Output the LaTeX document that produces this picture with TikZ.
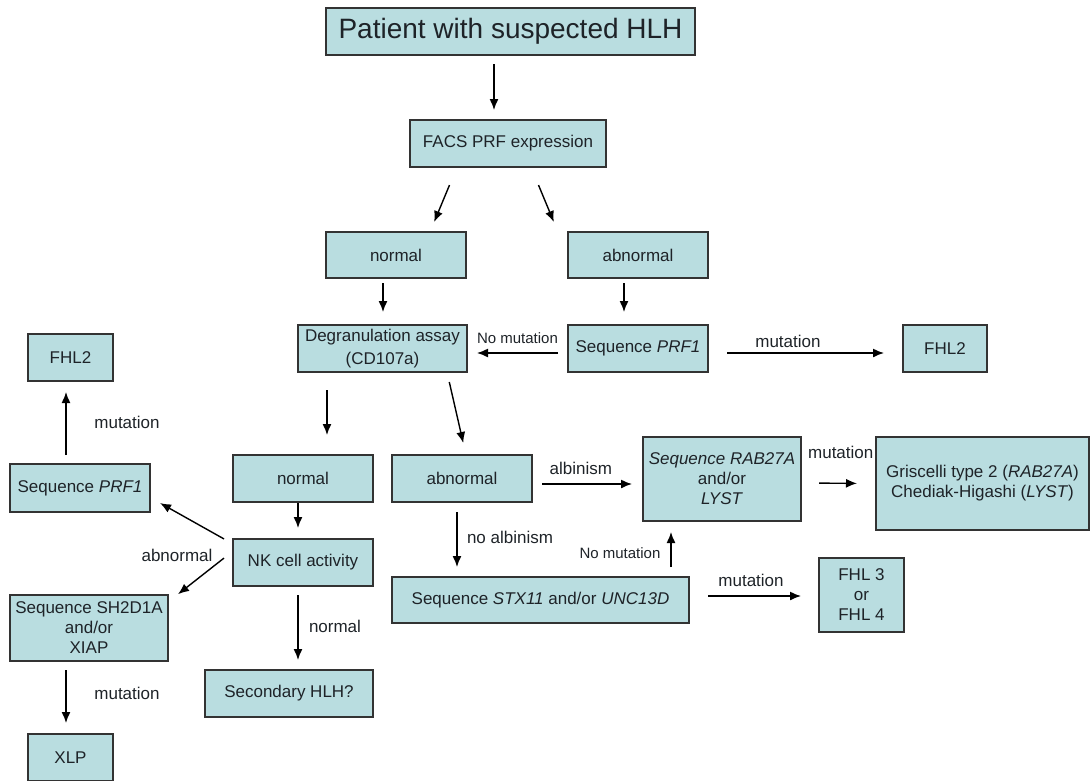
\documentclass[tikz,border=0pt]{standalone}
\usepackage{fontspec}
\setmainfont{Liberation Sans}
\usepackage{xcolor}
\usepackage{tikz}
\usetikzlibrary{arrows.meta}
\definecolor{box}{HTML}{B9DDE0}
\definecolor{ink}{HTML}{1E2328}

\begin{document}
\begin{tikzpicture}[x=1pt,y=-1pt,>={Latex[length=11pt,width=9pt]},font=\fontsize{17}{20}\selectfont,line width=1.4pt,text=ink]
\tikzstyle{b}=[draw=black!80,fill=box,line width=1.5pt,align=center,inner sep=0pt,outer sep=0pt]
\tikzstyle{lab}=[inner sep=0pt]
\tikzstyle{sm}=[inner sep=0pt,font=\fontsize{15}{18}\selectfont]
\useasboundingbox (0,0) rectangle (1090,780);
% boxes
\node[b,minimum width=369pt,minimum height=47pt,font=\fontsize{28}{32}\selectfont] (pat) at (510.5,31.5) {Patient with suspected HLH};
\node[b,minimum width=196pt,minimum height=47pt] (facs) at (508,143.5) {FACS PRF expression};
\node[b,minimum width=140pt,minimum height=46pt] (norm1) at (396,255) {normal};
\node[b,minimum width=140pt,minimum height=46pt] (abn1) at (638,255) {abnormal};
\node[b,minimum width=169pt,minimum height=47pt,font=\fontsize{17}{23}\selectfont] (degr) at (382.5,348.5) {Degranulation assay\\(CD107a)};
\node[b,minimum width=140pt,minimum height=47pt] (seqr) at (638,348.5) {Sequence \textit{PRF1}};
\node[b,minimum width=84pt,minimum height=47pt] (fhlr) at (945,348.5) {FHL2};
\node[b,minimum width=85pt,minimum height=47pt] (fhll) at (70.5,357.5) {FHL2};
\node[b,minimum width=140pt,minimum height=48pt] (seql) at (80,488) {Sequence \textit{PRF1}};
\node[b,minimum width=140pt,minimum height=47pt] (norm2) at (303,478.5) {normal};
\node[b,minimum width=140pt,minimum height=47pt] (abn2) at (462,478.5) {abnormal};
\node[b,minimum width=158pt,minimum height=84pt] (rab) at (722,479) {\textit{Sequence RAB27A}\\and/or\\\textit{LYST}};
\node[b,minimum width=213pt,minimum height=93pt] (gris) at (982.5,483.5) {Griscelli type 2 (\textit{RAB27A})\\Chediak-Higashi (\textit{LYST})};
\node[b,minimum width=140pt,minimum height=47pt] (nk) at (303,562.5) {NK cell activity};
\node[b,minimum width=297pt,minimum height=46pt] (stx) at (540.5,600) {Sequence \textit{STX11} and/or \textit{UNC13D}};
\node[b,minimum width=85pt,minimum height=74pt] (fhl34) at (861.5,595) {FHL 3\\or\\FHL 4};
\node[b,minimum width=158pt,minimum height=66pt] (sh2) at (89,628) {Sequence SH2D1A\\and/or\\XIAP};
\node[b,minimum width=168pt,minimum height=47pt] (sec) at (289,693.5) {Secondary HLH?};
\node[b,minimum width=85pt,minimum height=47pt] (xlp) at (70.5,757.5) {XLP};
% arrows
\draw[->,shorten <=9pt,shorten >=10pt] ([xshift=168pt]pat.south west) -- ([xshift=84pt]facs.north west);
\draw[->,shorten <=19.5pt,shorten >=10.8pt] ([xshift=47pt]facs.south west) -- ([xshift=104pt]norm1.north west);
\draw[->,shorten <=19.5pt,shorten >=10.8pt] ([xshift=121pt]facs.south west) -- ([xshift=-10pt]abn1.north west);
\draw[->,shorten <=5pt,shorten >=13pt] ([xshift=57pt]norm1.south west) -- ([xshift=85pt]degr.north west);
\draw[->,shorten <=5pt,shorten >=13pt] ([xshift=56pt]abn1.south west) -- ([xshift=56pt]seqr.north west);
\draw[->,shorten <=10pt,shorten >=10pt] ([yshift=-4.5pt]seqr.west) -- node[sm,pos=0.5,yshift=15pt] {No mutation} ([yshift=-4.5pt]degr.east);
\draw[->,shorten <=19pt,shorten >=19pt] ([yshift=-4.5pt]seqr.east) -- node[lab,pos=0.41,yshift=12pt] {mutation} ([yshift=-4.5pt]fhlr.west);
\draw[->,shorten <=9pt,shorten >=11pt] ([xshift=56pt]seql.north west) -- node[lab,pos=0.506,xshift=61pt] {mutation} ([xshift=38pt]fhll.south west);
\draw[->,shorten <=18pt,shorten >=20pt] ([xshift=29pt]degr.south west) -- ([xshift=94pt]norm2.north west);
\draw[->,shorten <=10.25pt,shorten >=12.3pt] ([xshift=149pt]degr.south west) -- ([xshift=74pt]abn2.north west);
\draw[->,shorten <=1pt,shorten >=11pt] ([xshift=65pt]norm2.south west) -- ([xshift=65pt]nk.north west);
\draw[->,shorten <=10pt,shorten >=11pt] ([yshift=-5.5pt]abn2.east) -- node[lab,pos=0.44,yshift=16pt] {albinism} ([yshift=-5pt]rab.west);
\draw[->,shorten <=18pt,shorten >=19pt] ([yshift=-4pt]rab.east) -- node[lab,pos=0.53,yshift=31pt] {mutation} (gris.west);
\draw[->,shorten <=10pt,shorten >=10pt] ([xshift=65pt]abn2.south west) -- node[lab,pos=0.467,xshift=53pt] {no albinism} ([xshift=65pt]stx.north west);
\draw[->,shorten <=10pt,shorten >=11pt] ([xshift=279pt]stx.north west) -- node[sm,pos=0.43,xshift=-51pt] {No mutation} ([xshift=28pt]rab.south west);
\draw[->,shorten <=19pt,shorten >=18pt] ([yshift=4pt]stx.east) -- node[lab,pos=0.477,yshift=16pt] {mutation} ([yshift=-1pt]fhl34.west);
\draw[->,shorten <=10.3pt,shorten >=11.5pt] ([yshift=18.5pt]nk.west) -- ([yshift=-9.4pt]seql.east);
\draw[->,shorten <=11.4pt,shorten >=1.3pt] ([yshift=11.5pt]nk.west) -- node[lab,pos=0,xshift=-56pt,yshift=-4pt] {abnormal} ([xshift=9pt]sh2.north east);
\draw[->,shorten <=9pt,shorten >=10pt] ([xshift=65pt]nk.south west) -- node[lab,pos=0.476,xshift=37pt] {normal} ([xshift=93pt]sec.north west);
\draw[->,shorten <=9pt,shorten >=11pt] ([xshift=56pt]sh2.south west) -- node[lab,pos=0.45,xshift=61pt] {mutation} ([xshift=38pt]xlp.north west);
\end{tikzpicture}
\end{document}
